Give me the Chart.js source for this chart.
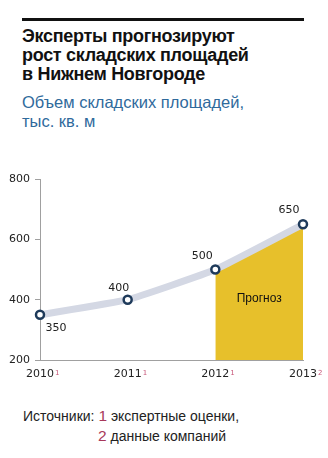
<!DOCTYPE html>
<html>
<head>
<meta charset="utf-8">
<script src="https://cdn.jsdelivr.net/npm/chart.js@4/dist/chart.umd.min.js"></script>
<style>
  body { margin: 0; background: #fff; width: 328px; height: 458px; position: relative; overflow: hidden; font-family: "Liberation Sans", Arial, sans-serif; }
  .rule { position: absolute; left: 22px; top: 18px; width: 282px; height: 3px; background: #111; }
  .title { position: absolute; left: 22px; top: 27px; font-weight: bold; font-size: 18px; line-height: 19px; color: #111; letter-spacing: -0.3px; }
  .subtitle { position: absolute; left: 22px; top: 93px; font-size: 16.5px; line-height: 19px; color: #2f6a9c; }
  .sources { position: absolute; left: 23px; top: 406px; font-size: 14px; line-height: 20px; color: #222; }
  .sources .n { color: #a8385a; font-size: 15.5px; }
  .sources .l2 { padding-left: 75px; }
  canvas { position: absolute; left: 0; top: 160px; }
</style>
</head>
<body>
<div class="rule"></div>
<div class="title">Эксперты прогнозируют<br>рост складских площадей<br>в Нижнем Новгороде</div>
<div class="subtitle">Объем складских площадей,<br>тыс. кв. м</div>
<canvas id="chart" width="328" height="230"></canvas>
<div class="sources">Источники: <span class="n">1</span> экспертные оценки,<br><div class="l2"><span class="n">2</span> данные компаний</div></div>

<script>
// Данные графика
const years = ['2010', '2011', '2012', '2013'];
const yearSources = ['1', '1', '1', '2'];
const volume = [350, 400, 500, 650];
const forecast = [null, null, 500, 650];   // зона прогноза
const yTicks = [200, 400, 600, 800];

// смещения подписей значений (px) относительно точки
const labelOffsets = [[16, 13], [-9, -12], [-13, -13], [-14, -14]];

const tickFont = { family: 'DejaVu Sans', size: 11 };

const extrasPlugin = {
    id: 'extras',
    afterDatasetsDraw(chart) {
        const ctx = chart.ctx;
        const x = chart.scales.x;
        const y = chart.scales.y;
        const meta = chart.getDatasetMeta(0);

        ctx.save();
        // подписи значений
        ctx.font = '11px "DejaVu Sans"';
        ctx.fillStyle = '#222';
        ctx.textAlign = 'center';
        ctx.textBaseline = 'middle';
        meta.data.forEach((pt, i) => {
            ctx.fillText(String(volume[i]), pt.x + labelOffsets[i][0], pt.y + labelOffsets[i][1]);
        });

        // "Прогноз" по центру жёлтой зоны
        ctx.font = '12px "Liberation Sans"';
        ctx.fillStyle = '#111';
        const cx = (x.getPixelForValue(2) + x.getPixelForValue(3)) / 2;
        ctx.fillText('Прогноз', cx, y.getPixelForValue(402));

        // верхние индексы у годов
        ctx.textAlign = 'left';
        ctx.textBaseline = 'alphabetic';
        years.forEach((yr, i) => {
            ctx.font = '11px "DejaVu Sans"';
            const w = ctx.measureText(yr).width;
            const px = x.getPixelForValue(i) + w / 2 + 1;
            ctx.font = '7px "DejaVu Sans"';
            ctx.fillStyle = '#c8587a';
            ctx.fillText(yearSources[i], px, y.bottom + 15);
        });
        ctx.restore();
    }
};

new Chart(document.getElementById('chart'), {
    type: 'line',
    data: {
        labels: years,
        datasets: [
            {
                data: volume,
                borderColor: '#d4d8e4',
                borderWidth: 7,
                tension: 0.12,
                pointRadius: 4,
                pointBorderWidth: 2.5,
                pointBorderColor: '#1e3a5a',
                pointBackgroundColor: '#fff',
                clip: false,
                order: 0
            },
            {
                data: forecast,
                fill: { value: 200 },
                backgroundColor: '#e7c02b',
                borderWidth: 0,
                pointRadius: 0,
                order: 1
            }
        ]
    },
    options: {
        responsive: false,
        animation: false,
        layout: { padding: { top: 19, right: 25, left: 0, bottom: 0 } },
        plugins: { legend: { display: false }, tooltip: { enabled: false } },
        scales: {
            x: {
                offset: false,
                grid: { display: false, drawTicks: false },
                border: { display: true, color: '#a0a0a0', width: 1 },
                ticks: { color: '#222', font: tickFont, padding: 8, maxRotation: 0 },
                afterFit(scale) { scale.height = 30; }
            },
            y: {
                min: 200,
                max: 800,
                afterBuildTicks(scale) { scale.ticks = yTicks.map(v => ({ value: v })); },
                grid: { drawOnChartArea: false, drawTicks: true, tickLength: 5, color: '#a0a0a0' },
                border: { display: true, color: '#a0a0a0', width: 1 },
                ticks: { color: '#222', font: tickFont, padding: 5 },
                afterFit(scale) { scale.width = 40; }
            }
        }
    },
    plugins: [extrasPlugin]
});
</script>
</body>
</html>
